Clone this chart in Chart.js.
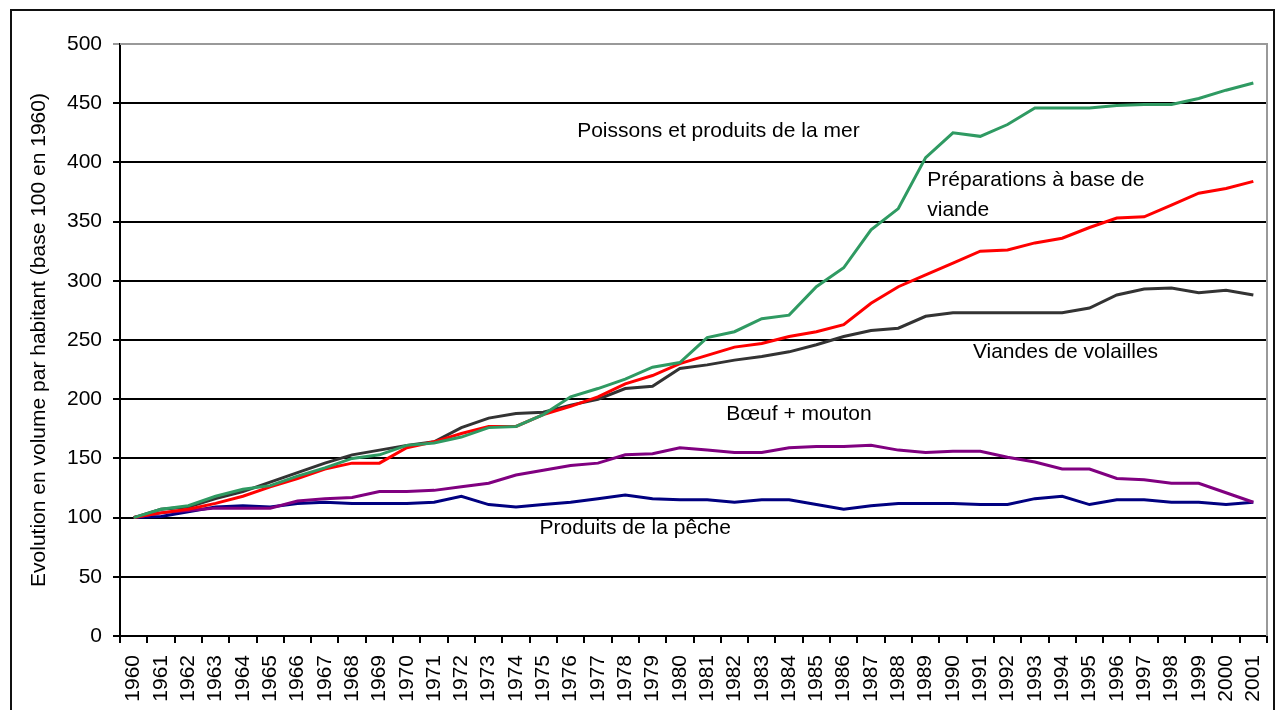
<!DOCTYPE html>
<html>
<head>
<meta charset="utf-8">
<script src="https://cdn.jsdelivr.net/npm/chart.js@4"></script>
<style>
  body { margin: 0; background: #fff; }
  canvas { display: block; }
</style>
</head>
<body>
<canvas id="chart" width="1276" height="710"></canvas>
<script>
const years = [];
for (let y = 1960; y <= 2001; y++) years.push(String(y));

const poissons = [100, 107, 110, 118, 124, 127, 135, 142, 150, 153, 161, 163, 168, 176, 177, 187, 202, 209, 217, 227, 231,
  252, 257, 268, 271, 295, 311, 343, 361, 404, 425, 422, 432, 446, 446, 446, 448, 449, 449, 454, 461, 467];
const preparations = [100, 104, 107, 112, 118, 126, 133, 141, 146, 146, 159, 164, 171, 177, 177, 187, 194, 202, 213, 220, 230,
  237, 244, 247, 253, 257, 263, 281, 295, 305, 315, 325, 326, 332, 336, 345, 353, 354, 364, 374, 378, 384];
const volailles = [100, 107, 109, 116, 122, 130, 138, 146, 153, 157, 161, 164, 176, 184, 188, 189, 195, 200, 209, 211, 226,
  229, 233, 236, 240, 246, 253, 258, 260, 270, 273, 273, 273, 273, 273, 277, 288, 293, 294, 290, 292, 288];
const boeuf = [100, 104, 106, 108, 108, 108, 114, 116, 117, 122, 122, 123, 126, 129, 136, 140, 144, 146, 153, 154, 159,
  157, 155, 155, 159, 160, 160, 161, 157, 155, 156, 156, 151, 147, 141, 141, 133, 132, 129, 129, 121, 113];
const peche = [100, 101, 105, 109, 110, 109, 112, 113, 112, 112, 112, 113, 118, 111, 109, 111, 113, 116, 119, 116, 115,
  115, 113, 115, 115, 111, 107, 110, 112, 112, 112, 111, 111, 116, 118, 111, 115, 115, 113, 113, 111, 113];

// text labels, placed in data units (category index, value)
const labels = [
  { text: ["Poissons et produits de la mer"], x: 16.24, y: 426 },
  { text: ["Préparations à base de", "viande"], x: 29.06, y: 385 },
  { text: ["Viandes de volailles"], x: 30.73, y: 240 },
  { text: ["Bœuf + mouton"], x: 21.7, y: 187.5 },
  { text: ["Produits de la pêche"], x: 14.86, y: 91 }
];

Chart.defaults.font.family = "'Liberation Sans', Arial, sans-serif";
Chart.defaults.font.size = 21;
Chart.defaults.color = "#000";

const frame = {
  id: "frame",
  beforeDraw(chart) {
    const ctx = chart.ctx;
    ctx.save();
    ctx.fillStyle = "#fff";
    ctx.fillRect(0, 0, chart.width, chart.height);
    ctx.strokeStyle = "#111";
    ctx.lineWidth = 2;
    ctx.strokeRect(11, 10, 1263, 720);
    ctx.restore();
  },
  afterDatasetsDraw(chart) {
    const ctx = chart.ctx;
    const a = chart.chartArea;
    ctx.save();
    ctx.strokeStyle = "#999";
    ctx.lineWidth = 2;
    ctx.beginPath();
    ctx.moveTo(a.left, a.top);
    ctx.lineTo(a.right, a.top);
    ctx.lineTo(a.right, a.bottom);
    ctx.stroke();
    const xs = chart.scales.x, ys = chart.scales.y;
    ctx.fillStyle = "#000";
    ctx.font = "21px 'Liberation Sans', Arial, sans-serif";
    ctx.textAlign = "left";
    ctx.textBaseline = "middle";
    labels.forEach(l => {
      const px = xs.getPixelForValue(l.x);
      const py = ys.getPixelForValue(l.y);
      l.text.forEach((t, i) => ctx.fillText(t, px, py + i * 30));
    });
    ctx.restore();
  }
};

const line = (label, data, color) => ({
  label, data,
  borderColor: color,
  backgroundColor: color,
  borderWidth: 3,
  pointRadius: 0,
  tension: 0,
  fill: false
});

new Chart(document.getElementById("chart"), {
  type: "line",
  data: {
    labels: years,
    datasets: [
      line("Poissons et produits de la mer", poissons, "#2f9a62"),
      line("Préparations à base de viande", preparations, "#ff0000"),
      line("Viandes de volailles", volailles, "#333333"),
      line("Bœuf + mouton", boeuf, "#800080"),
      line("Produits de la pêche", peche, "#000080")
    ]
  },
  options: {
    responsive: false,
    animation: false,
    layout: { padding: { left: 0, top: 44, right: 9, bottom: 0 } },
    plugins: {
      legend: { display: false },
      tooltip: { enabled: false }
    },
    scales: {
      x: {
        offset: true,
        grid: {
          offset: true,
          drawOnChartArea: false,
          drawTicks: true,
          tickLength: 7,
          color: "#000",
          lineWidth: 2
        },
        border: { color: "#000", width: 2 },
        ticks: {
          autoSkip: false,
          minRotation: 90,
          maxRotation: 90,
          padding: 12
        },
        afterFit(scale) {
          scale.height = 74;
          scale.paddingLeft = 0;
          scale.paddingRight = 0;
        }
      },
      y: {
        min: 0,
        max: 500,
        ticks: { stepSize: 50, padding: 11 },
        grid: {
          tickLength: 7,
          color: ctx => ctx.tick && ctx.tick.value === 500 ? "#999" : "#000",
          lineWidth: 2
        },
        border: { color: "#000", width: 2 },
        title: {
          display: true,
          text: "Evolution en volume par habitant (base 100 en 1960)",
          padding: { top: 27, bottom: 0 },
          font: { size: 21 }
        },
        afterFit(scale) {
          scale.width = 120;
          scale.paddingTop = 0;
          scale.paddingBottom = 0;
        }
      }
    }
  },
  plugins: [frame]
});
</script>
</body>
</html>
